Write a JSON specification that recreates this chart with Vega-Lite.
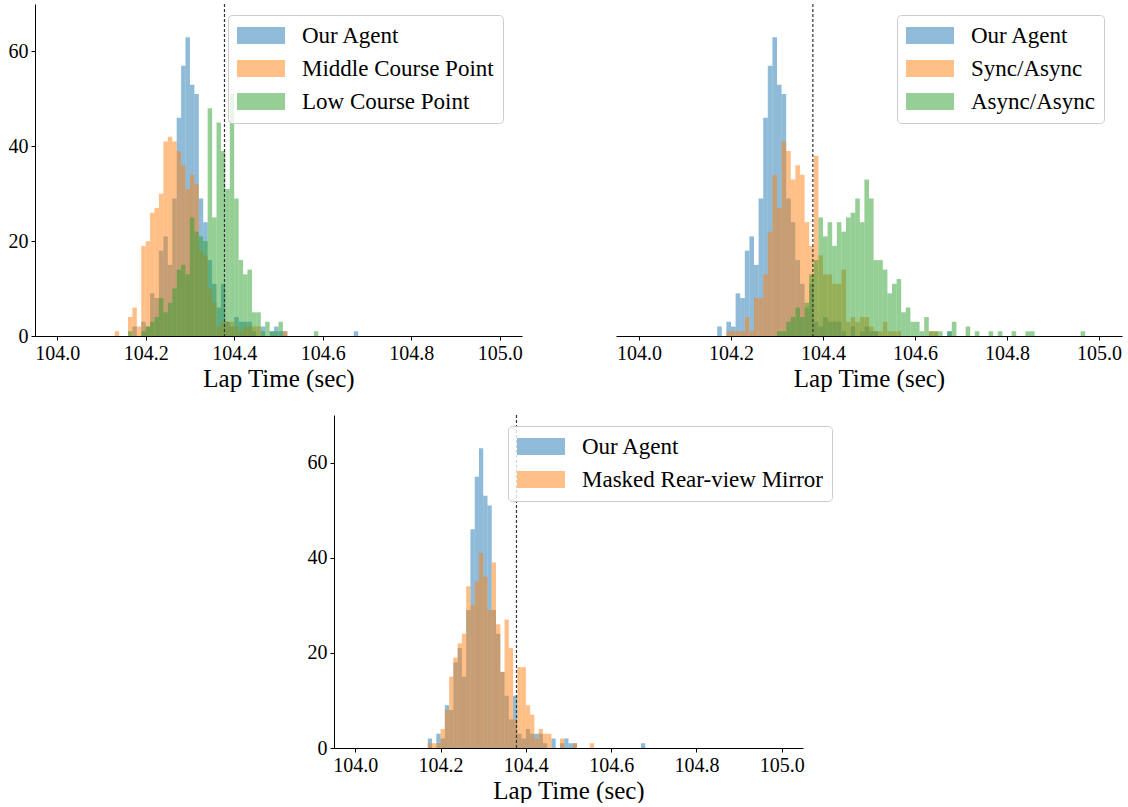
{
"$schema": "https://vega.github.io/schema/vega-lite/v6.json",
"padding": {"left": 8, "top": 3, "right": 4, "bottom": 0},
"background": "white",
"datasets": {
"agent": [
{"series":"Our Agent","start":104.17,"end":104.18,"count":2},
{"series":"Our Agent","start":104.19,"end":104.2,"count":3},
{"series":"Our Agent","start":104.2,"end":104.21,"count":2},
{"series":"Our Agent","start":104.21,"end":104.22,"count":9},
{"series":"Our Agent","start":104.22,"end":104.23,"count":8},
{"series":"Our Agent","start":104.23,"end":104.24,"count":18},
{"series":"Our Agent","start":104.24,"end":104.25,"count":21},
{"series":"Our Agent","start":104.25,"end":104.26,"count":15},
{"series":"Our Agent","start":104.26,"end":104.27,"count":29},
{"series":"Our Agent","start":104.27,"end":104.28,"count":46},
{"series":"Our Agent","start":104.28,"end":104.29,"count":57},
{"series":"Our Agent","start":104.29,"end":104.3,"count":63},
{"series":"Our Agent","start":104.3,"end":104.31,"count":53},
{"series":"Our Agent","start":104.31,"end":104.32,"count":51},
{"series":"Our Agent","start":104.32,"end":104.33,"count":29},
{"series":"Our Agent","start":104.33,"end":104.34,"count":24},
{"series":"Our Agent","start":104.34,"end":104.35,"count":16},
{"series":"Our Agent","start":104.35,"end":104.36,"count":11},
{"series":"Our Agent","start":104.36,"end":104.37,"count":6},
{"series":"Our Agent","start":104.37,"end":104.38,"count":11},
{"series":"Our Agent","start":104.38,"end":104.39,"count":3},
{"series":"Our Agent","start":104.39,"end":104.4,"count":2},
{"series":"Our Agent","start":104.4,"end":104.41,"count":4},
{"series":"Our Agent","start":104.41,"end":104.42,"count":3},
{"series":"Our Agent","start":104.42,"end":104.43,"count":3},
{"series":"Our Agent","start":104.43,"end":104.44,"count":3},
{"series":"Our Agent","start":104.44,"end":104.45,"count":1},
{"series":"Our Agent","start":104.46,"end":104.47,"count":2},
{"series":"Our Agent","start":104.48,"end":104.49,"count":1},
{"series":"Our Agent","start":104.49,"end":104.5,"count":2},
{"series":"Our Agent","start":104.5,"end":104.51,"count":1},
{"series":"Our Agent","start":104.51,"end":104.52,"count":1},
{"series":"Our Agent","start":104.67,"end":104.68,"count":1}
],
"middle": [
{"series":"Middle Course Point","start":104.13,"end":104.14,"count":1},
{"series":"Middle Course Point","start":104.16,"end":104.17,"count":4},
{"series":"Middle Course Point","start":104.17,"end":104.18,"count":6},
{"series":"Middle Course Point","start":104.18,"end":104.19,"count":2},
{"series":"Middle Course Point","start":104.19,"end":104.2,"count":19},
{"series":"Middle Course Point","start":104.2,"end":104.21,"count":20},
{"series":"Middle Course Point","start":104.21,"end":104.22,"count":26},
{"series":"Middle Course Point","start":104.22,"end":104.23,"count":27},
{"series":"Middle Course Point","start":104.23,"end":104.24,"count":30},
{"series":"Middle Course Point","start":104.24,"end":104.25,"count":41},
{"series":"Middle Course Point","start":104.25,"end":104.26,"count":42},
{"series":"Middle Course Point","start":104.26,"end":104.27,"count":41},
{"series":"Middle Course Point","start":104.27,"end":104.28,"count":39},
{"series":"Middle Course Point","start":104.28,"end":104.29,"count":36},
{"series":"Middle Course Point","start":104.29,"end":104.3,"count":31},
{"series":"Middle Course Point","start":104.3,"end":104.31,"count":34},
{"series":"Middle Course Point","start":104.31,"end":104.32,"count":32},
{"series":"Middle Course Point","start":104.32,"end":104.33,"count":18},
{"series":"Middle Course Point","start":104.33,"end":104.34,"count":17},
{"series":"Middle Course Point","start":104.34,"end":104.35,"count":10},
{"series":"Middle Course Point","start":104.35,"end":104.36,"count":7},
{"series":"Middle Course Point","start":104.36,"end":104.37,"count":2},
{"series":"Middle Course Point","start":104.37,"end":104.38,"count":3},
{"series":"Middle Course Point","start":104.38,"end":104.39,"count":3},
{"series":"Middle Course Point","start":104.39,"end":104.4,"count":3},
{"series":"Middle Course Point","start":104.4,"end":104.41,"count":2},
{"series":"Middle Course Point","start":104.41,"end":104.42,"count":1},
{"series":"Middle Course Point","start":104.42,"end":104.43,"count":2},
{"series":"Middle Course Point","start":104.43,"end":104.44,"count":2},
{"series":"Middle Course Point","start":104.44,"end":104.45,"count":2},
{"series":"Middle Course Point","start":104.45,"end":104.46,"count":2},
{"series":"Middle Course Point","start":104.51,"end":104.52,"count":1}
],
"low": [
{"series":"Low Course Point","start":104.16,"end":104.17,"count":1},
{"series":"Low Course Point","start":104.19,"end":104.2,"count":1},
{"series":"Low Course Point","start":104.2,"end":104.21,"count":2},
{"series":"Low Course Point","start":104.21,"end":104.22,"count":3},
{"series":"Low Course Point","start":104.22,"end":104.23,"count":4},
{"series":"Low Course Point","start":104.23,"end":104.24,"count":8},
{"series":"Low Course Point","start":104.24,"end":104.25,"count":5},
{"series":"Low Course Point","start":104.25,"end":104.26,"count":7},
{"series":"Low Course Point","start":104.26,"end":104.27,"count":10},
{"series":"Low Course Point","start":104.27,"end":104.28,"count":14},
{"series":"Low Course Point","start":104.28,"end":104.29,"count":15},
{"series":"Low Course Point","start":104.29,"end":104.3,"count":13},
{"series":"Low Course Point","start":104.3,"end":104.31,"count":25},
{"series":"Low Course Point","start":104.31,"end":104.32,"count":22},
{"series":"Low Course Point","start":104.32,"end":104.33,"count":21},
{"series":"Low Course Point","start":104.33,"end":104.34,"count":20},
{"series":"Low Course Point","start":104.34,"end":104.35,"count":48},
{"series":"Low Course Point","start":104.35,"end":104.36,"count":25},
{"series":"Low Course Point","start":104.36,"end":104.37,"count":45},
{"series":"Low Course Point","start":104.37,"end":104.38,"count":39},
{"series":"Low Course Point","start":104.38,"end":104.39,"count":31},
{"series":"Low Course Point","start":104.39,"end":104.4,"count":51},
{"series":"Low Course Point","start":104.4,"end":104.41,"count":29},
{"series":"Low Course Point","start":104.41,"end":104.42,"count":16},
{"series":"Low Course Point","start":104.42,"end":104.43,"count":13},
{"series":"Low Course Point","start":104.43,"end":104.44,"count":14},
{"series":"Low Course Point","start":104.44,"end":104.45,"count":5},
{"series":"Low Course Point","start":104.45,"end":104.46,"count":5},
{"series":"Low Course Point","start":104.46,"end":104.47,"count":1},
{"series":"Low Course Point","start":104.47,"end":104.48,"count":3},
{"series":"Low Course Point","start":104.48,"end":104.49,"count":1},
{"series":"Low Course Point","start":104.49,"end":104.5,"count":1},
{"series":"Low Course Point","start":104.5,"end":104.51,"count":3},
{"series":"Low Course Point","start":104.58,"end":104.59,"count":1}
],
"sync": [
{"series":"Sync/Async","start":104.19,"end":104.2,"count":1},
{"series":"Sync/Async","start":104.2,"end":104.21,"count":1},
{"series":"Sync/Async","start":104.21,"end":104.22,"count":1},
{"series":"Sync/Async","start":104.22,"end":104.23,"count":1},
{"series":"Sync/Async","start":104.23,"end":104.24,"count":4},
{"series":"Sync/Async","start":104.24,"end":104.25,"count":1},
{"series":"Sync/Async","start":104.25,"end":104.26,"count":8},
{"series":"Sync/Async","start":104.26,"end":104.27,"count":8},
{"series":"Sync/Async","start":104.27,"end":104.28,"count":13},
{"series":"Sync/Async","start":104.28,"end":104.29,"count":22},
{"series":"Sync/Async","start":104.29,"end":104.3,"count":34},
{"series":"Sync/Async","start":104.3,"end":104.31,"count":27},
{"series":"Sync/Async","start":104.31,"end":104.32,"count":41},
{"series":"Sync/Async","start":104.32,"end":104.33,"count":39},
{"series":"Sync/Async","start":104.33,"end":104.34,"count":33},
{"series":"Sync/Async","start":104.34,"end":104.35,"count":36},
{"series":"Sync/Async","start":104.35,"end":104.36,"count":34},
{"series":"Sync/Async","start":104.36,"end":104.37,"count":24},
{"series":"Sync/Async","start":104.37,"end":104.38,"count":19},
{"series":"Sync/Async","start":104.38,"end":104.39,"count":38},
{"series":"Sync/Async","start":104.39,"end":104.4,"count":17},
{"series":"Sync/Async","start":104.4,"end":104.41,"count":13},
{"series":"Sync/Async","start":104.41,"end":104.42,"count":13},
{"series":"Sync/Async","start":104.42,"end":104.43,"count":11},
{"series":"Sync/Async","start":104.43,"end":104.44,"count":11},
{"series":"Sync/Async","start":104.44,"end":104.45,"count":14},
{"series":"Sync/Async","start":104.45,"end":104.46,"count":3},
{"series":"Sync/Async","start":104.46,"end":104.47,"count":4},
{"series":"Sync/Async","start":104.47,"end":104.48,"count":3},
{"series":"Sync/Async","start":104.48,"end":104.49,"count":4},
{"series":"Sync/Async","start":104.49,"end":104.5,"count":4},
{"series":"Sync/Async","start":104.5,"end":104.51,"count":2},
{"series":"Sync/Async","start":104.51,"end":104.52,"count":1},
{"series":"Sync/Async","start":104.52,"end":104.53,"count":1},
{"series":"Sync/Async","start":104.53,"end":104.54,"count":3},
{"series":"Sync/Async","start":104.54,"end":104.55,"count":1},
{"series":"Sync/Async","start":104.55,"end":104.56,"count":1},
{"series":"Sync/Async","start":104.56,"end":104.57,"count":1},
{"series":"Sync/Async","start":104.63,"end":104.64,"count":1},
{"series":"Sync/Async","start":104.64,"end":104.65,"count":1}
],
"async": [
{"series":"Async/Async","start":104.3,"end":104.31,"count":1},
{"series":"Async/Async","start":104.31,"end":104.32,"count":1},
{"series":"Async/Async","start":104.32,"end":104.33,"count":3},
{"series":"Async/Async","start":104.33,"end":104.34,"count":4},
{"series":"Async/Async","start":104.34,"end":104.35,"count":6},
{"series":"Async/Async","start":104.35,"end":104.36,"count":4},
{"series":"Async/Async","start":104.36,"end":104.37,"count":7},
{"series":"Async/Async","start":104.37,"end":104.38,"count":13},
{"series":"Async/Async","start":104.38,"end":104.39,"count":16},
{"series":"Async/Async","start":104.39,"end":104.4,"count":25},
{"series":"Async/Async","start":104.4,"end":104.41,"count":21},
{"series":"Async/Async","start":104.41,"end":104.42,"count":24},
{"series":"Async/Async","start":104.42,"end":104.43,"count":19},
{"series":"Async/Async","start":104.43,"end":104.44,"count":24},
{"series":"Async/Async","start":104.44,"end":104.45,"count":22},
{"series":"Async/Async","start":104.45,"end":104.46,"count":25},
{"series":"Async/Async","start":104.46,"end":104.47,"count":26},
{"series":"Async/Async","start":104.47,"end":104.48,"count":29},
{"series":"Async/Async","start":104.48,"end":104.49,"count":24},
{"series":"Async/Async","start":104.49,"end":104.5,"count":33},
{"series":"Async/Async","start":104.5,"end":104.51,"count":29},
{"series":"Async/Async","start":104.51,"end":104.52,"count":16},
{"series":"Async/Async","start":104.52,"end":104.53,"count":16},
{"series":"Async/Async","start":104.53,"end":104.54,"count":14},
{"series":"Async/Async","start":104.54,"end":104.55,"count":9},
{"series":"Async/Async","start":104.55,"end":104.56,"count":11},
{"series":"Async/Async","start":104.56,"end":104.57,"count":12},
{"series":"Async/Async","start":104.57,"end":104.58,"count":5},
{"series":"Async/Async","start":104.58,"end":104.59,"count":6},
{"series":"Async/Async","start":104.59,"end":104.6,"count":3},
{"series":"Async/Async","start":104.6,"end":104.61,"count":3},
{"series":"Async/Async","start":104.61,"end":104.62,"count":1},
{"series":"Async/Async","start":104.62,"end":104.63,"count":4},
{"series":"Async/Async","start":104.63,"end":104.64,"count":1},
{"series":"Async/Async","start":104.64,"end":104.65,"count":1},
{"series":"Async/Async","start":104.65,"end":104.66,"count":1},
{"series":"Async/Async","start":104.67,"end":104.68,"count":1},
{"series":"Async/Async","start":104.68,"end":104.69,"count":3},
{"series":"Async/Async","start":104.71,"end":104.72,"count":2},
{"series":"Async/Async","start":104.73,"end":104.74,"count":1},
{"series":"Async/Async","start":104.76,"end":104.77,"count":1},
{"series":"Async/Async","start":104.78,"end":104.79,"count":1},
{"series":"Async/Async","start":104.81,"end":104.82,"count":1},
{"series":"Async/Async","start":104.84,"end":104.85,"count":1},
{"series":"Async/Async","start":104.85,"end":104.86,"count":1},
{"series":"Async/Async","start":104.96,"end":104.97,"count":1}
],
"masked": [
{"series":"Masked Rear-view Mirror","start":104.17,"end":104.18,"count":1},
{"series":"Masked Rear-view Mirror","start":104.18,"end":104.19,"count":1},
{"series":"Masked Rear-view Mirror","start":104.19,"end":104.2,"count":1},
{"series":"Masked Rear-view Mirror","start":104.2,"end":104.21,"count":4},
{"series":"Masked Rear-view Mirror","start":104.21,"end":104.22,"count":8},
{"series":"Masked Rear-view Mirror","start":104.22,"end":104.23,"count":15},
{"series":"Masked Rear-view Mirror","start":104.23,"end":104.24,"count":19},
{"series":"Masked Rear-view Mirror","start":104.24,"end":104.25,"count":22},
{"series":"Masked Rear-view Mirror","start":104.25,"end":104.26,"count":24},
{"series":"Masked Rear-view Mirror","start":104.26,"end":104.27,"count":34},
{"series":"Masked Rear-view Mirror","start":104.27,"end":104.28,"count":30},
{"series":"Masked Rear-view Mirror","start":104.28,"end":104.29,"count":35},
{"series":"Masked Rear-view Mirror","start":104.29,"end":104.3,"count":41},
{"series":"Masked Rear-view Mirror","start":104.3,"end":104.31,"count":36},
{"series":"Masked Rear-view Mirror","start":104.31,"end":104.32,"count":29},
{"series":"Masked Rear-view Mirror","start":104.32,"end":104.33,"count":39},
{"series":"Masked Rear-view Mirror","start":104.33,"end":104.34,"count":26},
{"series":"Masked Rear-view Mirror","start":104.34,"end":104.35,"count":16},
{"series":"Masked Rear-view Mirror","start":104.35,"end":104.36,"count":27},
{"series":"Masked Rear-view Mirror","start":104.36,"end":104.37,"count":21},
{"series":"Masked Rear-view Mirror","start":104.37,"end":104.38,"count":6},
{"series":"Masked Rear-view Mirror","start":104.38,"end":104.39,"count":17},
{"series":"Masked Rear-view Mirror","start":104.39,"end":104.4,"count":17},
{"series":"Masked Rear-view Mirror","start":104.4,"end":104.41,"count":9},
{"series":"Masked Rear-view Mirror","start":104.41,"end":104.42,"count":7},
{"series":"Masked Rear-view Mirror","start":104.42,"end":104.43,"count":2},
{"series":"Masked Rear-view Mirror","start":104.43,"end":104.44,"count":4},
{"series":"Masked Rear-view Mirror","start":104.44,"end":104.45,"count":3},
{"series":"Masked Rear-view Mirror","start":104.45,"end":104.46,"count":3},
{"series":"Masked Rear-view Mirror","start":104.48,"end":104.49,"count":2},
{"series":"Masked Rear-view Mirror","start":104.51,"end":104.52,"count":1},
{"series":"Masked Rear-view Mirror","start":104.55,"end":104.56,"count":1}
],
"threshold": [{"threshold":104.378}],
"spacer": [{"dummy":0}]
},
"vconcat": [
{
"hconcat": [
{
"width": 487, "height": 332,
"layer": [
{"data": {"name":"agent"}, "mark": {"type":"bar","opacity":0.5},
 "encoding": {
  "x": {"field":"start","type":"quantitative","scale":{"domain":[103.95,105.05],"nice":false,"zero":false},"axis":{"title":"Lap Time (sec)","values":[104,104.2,104.4,104.6,104.8,105],"format":".1f","labelFlush":false}},
  "x2": {"field":"end"},
  "y": {"field":"count","type":"quantitative","scale":{"domain":[0,70],"nice":false},"axis":{"title":null,"values":[0,20,40,60]}},
  "y2": {"datum": 0},
  "color": {"field":"series","type":"nominal","scale":{"domain":["Our Agent","Middle Course Point","Low Course Point"],"range":["#1f77b4","#ff7f0e","#2ca02c"]},"legend":{"title":null,"orient":"none","legendX":193,"legendY":11}}
 }},
{"data": {"name":"middle"}, "mark": {"type":"bar","opacity":0.5},
 "encoding": {"x":{"field":"start","type":"quantitative"},"x2":{"field":"end"},"y":{"field":"count","type":"quantitative"},"y2":{"datum":0},"color":{"field":"series","type":"nominal"}}},
{"data": {"name":"low"}, "mark": {"type":"bar","opacity":0.5},
 "encoding": {"x":{"field":"start","type":"quantitative"},"x2":{"field":"end"},"y":{"field":"count","type":"quantitative"},"y2":{"datum":0},"color":{"field":"series","type":"nominal"}}},
{"data": {"name":"threshold"}, "mark": {"type":"rule","color":"#333333","strokeDash":[3,2],"strokeWidth":1.2},
 "encoding": {"x":{"field":"threshold","type":"quantitative"}}}
]
},
{
"width": 506, "height": 332,
"layer": [
{"data": {"name":"agent"}, "mark": {"type":"bar","opacity":0.5},
 "encoding": {
  "x": {"field":"start","type":"quantitative","scale":{"domain":[103.95,105.05],"nice":false,"zero":false},"axis":{"title":"Lap Time (sec)","values":[104,104.2,104.4,104.6,104.8,105],"format":".1f","labelFlush":false}},
  "x2": {"field":"end"},
  "y": {"field":"count","type":"quantitative","scale":{"domain":[0,70],"nice":false},"axis":null},
  "y2": {"datum": 0},
  "color": {"field":"series","type":"nominal","scale":{"domain":["Our Agent","Sync/Async","Async/Async"],"range":["#1f77b4","#ff7f0e","#2ca02c"]},"legend":{"title":null,"orient":"none","legendX":281,"legendY":11}}
 }},
{"data": {"name":"sync"}, "mark": {"type":"bar","opacity":0.5},
 "encoding": {"x":{"field":"start","type":"quantitative"},"x2":{"field":"end"},"y":{"field":"count","type":"quantitative"},"y2":{"datum":0},"color":{"field":"series","type":"nominal"}}},
{"data": {"name":"async"}, "mark": {"type":"bar","opacity":0.5},
 "encoding": {"x":{"field":"start","type":"quantitative"},"x2":{"field":"end"},"y":{"field":"count","type":"quantitative"},"y2":{"datum":0},"color":{"field":"series","type":"nominal"}}},
{"data": {"name":"threshold"}, "mark": {"type":"rule","color":"#333333","strokeDash":[3,2],"strokeWidth":1.2},
 "encoding": {"x":{"field":"threshold","type":"quantitative"}}}
]
}
],
"spacing": 93,
"resolve": {"scale": {"x":"independent","y":"independent","color":"independent"}, "axis": {"x":"independent","y":"independent"}, "legend": {"color":"independent"}}
},
{
"hconcat": [
{"width": 272, "height": 10, "data": {"name":"spacer"}, "mark": {"type":"point","opacity":0}, "encoding": {}},
{
"width": 469, "height": 333,
"layer": [
{"data": {"name":"agent"}, "mark": {"type":"bar","opacity":0.5},
 "encoding": {
  "x": {"field":"start","type":"quantitative","scale":{"domain":[103.95,105.05],"nice":false,"zero":false},"axis":{"title":"Lap Time (sec)","values":[104,104.2,104.4,104.6,104.8,105],"format":".1f","labelFlush":false}},
  "x2": {"field":"end"},
  "y": {"field":"count","type":"quantitative","scale":{"domain":[0,70],"nice":false},"axis":{"title":null,"values":[0,20,40,60]}},
  "y2": {"datum": 0},
  "color": {"field":"series","type":"nominal","scale":{"domain":["Our Agent","Masked Rear-view Mirror"],"range":["#1f77b4","#ff7f0e"]},"legend":{"title":null,"orient":"none","legendX":174,"legendY":11}}
 }},
{"data": {"name":"masked"}, "mark": {"type":"bar","opacity":0.5},
 "encoding": {"x":{"field":"start","type":"quantitative"},"x2":{"field":"end"},"y":{"field":"count","type":"quantitative"},"y2":{"datum":0},"color":{"field":"series","type":"nominal"}}},
{"data": {"name":"threshold"}, "mark": {"type":"rule","color":"#333333","strokeDash":[3,2],"strokeWidth":1.2},
 "encoding": {"x":{"field":"threshold","type":"quantitative"}}}
]
}
],
"spacing": 0,
"resolve": {"scale": {"x":"independent","y":"independent","color":"independent"}, "axis": {"x":"independent","y":"independent"}, "legend": {"color":"independent"}}
}
],
"spacing": 23,
"resolve": {"scale": {"x":"independent","y":"independent","color":"independent"}, "axis": {"x":"independent","y":"independent"}, "legend": {"color":"independent"}},
"config": {
 "font": "Liberation Serif",
 "view": {"stroke": null},
 "axis": {"grid": false, "domainColor": "#000000", "tickColor": "#000000", "labelColor": "#000000", "titleColor": "#000000", "labelFontSize": 20, "titleFontSize": 25, "titleFontWeight": "normal", "tickSize": 4, "labelPadding": 3, "titlePadding": 3, "domainWidth": 1, "tickWidth": 1},
 "legend": {"symbolType": "M-1,-0.739H3.174V0.739H-1Z", "symbolSize": 529, "symbolOpacity": 0.5, "symbolStrokeWidth": 0, "labelFontSize": 23, "labelOffset": 42, "rowPadding": 9, "padding": 9, "strokeColor": "#cccccc", "cornerRadius": 4, "fillColor": "rgba(255,255,255,0.8)", "labelColor": "#000000", "labelLimit": 0}
}
}
